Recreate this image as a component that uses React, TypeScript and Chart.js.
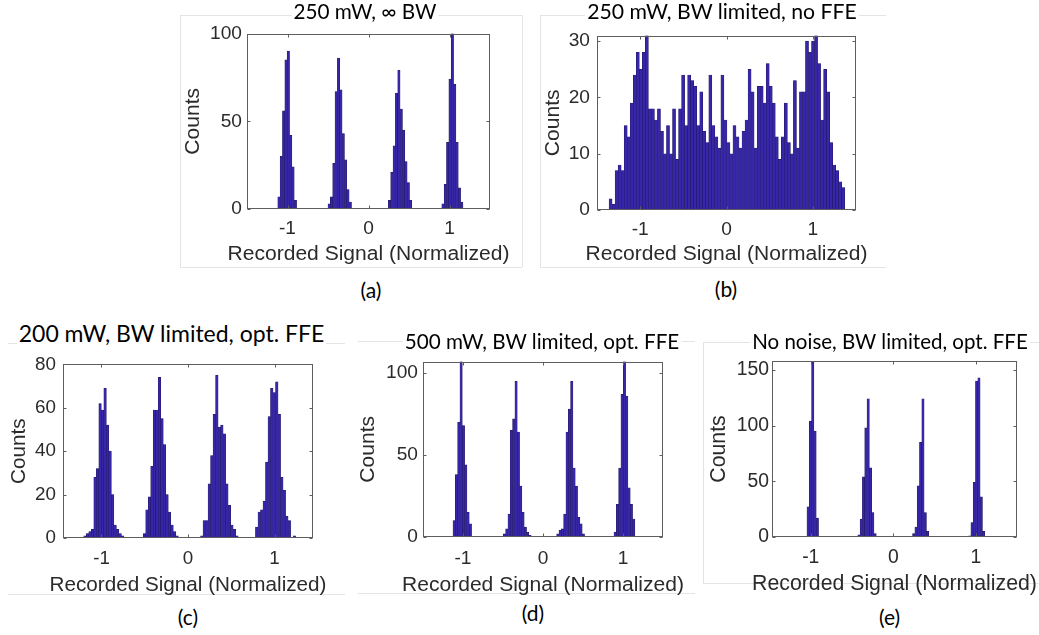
import React, { useEffect, useRef } from 'react';
import { Chart, registerables } from 'chart.js';

Chart.register(...registerables);

// ---------------- data ----------------
const xTickValues = [-1, 0, 1];

// (a) 250 mW, ∞ BW
const aBinWidth = 0.029;
const aPeakStarts = [-1.12, -0.5, 0.245, 0.905];
const aPeakM1 = [7, 30, 56, 85, 90, 42, 24, 5];
const aPeakM3 = [3, 7, 26, 67, 86, 68, 43, 28, 11, 4];
const aPeakP3 = [5, 21, 36, 66, 79, 57, 45, 27, 15, 5];
const aPeakP1 = [3, 14, 38, 74, 100, 71, 38, 12, 4];
const aYTicks = [0, 50, 100];

// (b) 250 mW, BW limited, no FFE
const bBinWidth = 0.035;
const bStart = -1.36;
const bCounts = [
  2, 1, 7, 8, 7, 15, 13, 19, 24, 28, 25, 28, 31,
  18, 18, 16, 18, 14, 10, 15, 10, 18, 9, 18, 24, 15, 24, 23, 22, 15, 21, 14, 12, 24, 15, 13, 11, 24, 16, 12, 10, 15, 13,
  11, 14, 16, 25, 21, 11, 22, 22, 19, 26, 22, 19, 13, 9, 13, 19, 12, 10, 23, 11, 21, 21, 30, 28, 30, 31, 26, 16, 25, 21, 12, 8, 7, 5, 4,
];
const bYTicks = [0, 10, 20, 30];

// (c) 200 mW, BW limited, opt. FFE
const cBinWidth = 0.029;
const cPeakStarts = [-1.205, -0.518, 0.145, 0.78];
const cPeakM1 = [1, 2, 3, 4, 28, 32, 62, 59, 69, 52, 40, 20, 6, 4, 2, 1];
const cPeakM3 = [2, 13, 19, 33, 59, 59, 74, 55, 43, 20, 12, 6, 3, 1];
const cPeakP3 = [1, 8, 8, 25, 38, 57, 75, 51, 52, 48, 25, 15, 6, 4, 1];
const cPeakP1 = [5, 12, 13, 17, 35, 56, 69, 67, 72, 57, 28, 22, 10, 8, 0, 1];
const cYTicks = [0, 20, 40, 60, 80];

// (d) 500 mW, BW limited, opt. FFE
const dBinWidth = 0.029;
const dPeakStarts = [-1.125, -0.496, 0.171, 0.8875];
const dPeakM1 = [10, 38, 70, 107, 68, 44, 15, 8];
const dPeakM3 = [2, 5, 14, 65, 72, 95, 64, 31, 15, 6, 3, 1];
const dPeakP3 = [2, 4, 5, 14, 64, 78, 95, 42, 31, 12, 8, 2];
const dPeakP1 = [3, 20, 42, 87, 107, 86, 30, 20, 11];
const dYTicks = [0, 50, 100];

// (e) No noise, BW limited, opt. FFE
const eBinWidth = 0.028;
const ePeakStarts = [-1.046, -0.43, 0.234, 0.913];
const ePeakM1 = [27, 104, 158, 95, 17];
const ePeakM3 = [2, 16, 54, 98, 124, 62, 22, 3];
const ePeakP3 = [3, 9, 46, 85, 124, 22, 5];
const ePeakP1 = [1, 13, 49, 140, 143, 36, 5];
const eYTicks = [0, 50, 100, 150];

// ---------------- styling ----------------
const AXIS_FONT = '"Liberation Sans", Arial, sans-serif';
const TITLE_FONT = 'Lato, "Open Sans", sans-serif';
const TEXT_COLOR = '#2b2b2b';
const AXIS_COLOR = '#5e5e5e';
const BAR_FACE = '#3727a8';
const BAR_EDGE = '#20175c';
const FRAME_COLOR = '#e4e4e4';
const X_LABEL = 'Recorded Signal (Normalized)';

Chart.defaults.font.family = AXIS_FONT;

type Pt = { x: number; y: number };

function peaksToBins(starts: number[], peaks: number[][], width: number): Pt[] {
  const out: Pt[] = [];
  peaks.forEach((counts, p) => {
    counts.forEach((c, i) => {
      if (c > 0) out.push({ x: starts[p] + (i + 0.5) * width, y: c });
    });
  });
  return out;
}

interface PanelCfg {
  id: string;
  title: string;
  titleCx: number;
  titleCy: number;
  titleW: number;
  caption: string;
  capCx: number;
  capCy: number;
  bins: Pt[];
  xMin: number;
  xMax: number;
  yMax: number;
  yTicks: number[];
  plot: { left: number; top: number; right: number; bottom: number };
  countsX: number;
  yTickPad: number;
  xTickCy: number;
  xLabelCy: number;
  xLabelW: number;
}

const panels: PanelCfg[] = [
  {
    id: 'a', title: '250 mW, \u221e BW', titleCx: 365, titleCy: 12, titleW: 143,
    caption: '(a)', capCx: 371, capCy: 291.5,
    bins: peaksToBins(aPeakStarts, [aPeakM1, aPeakM3, aPeakP3, aPeakP1], aBinWidth),
    xMin: -1.5, xMax: 1.5, yMax: 100, yTicks: aYTicks,
    plot: { left: 247, top: 33, right: 490, bottom: 209 },
    countsX: 193.5, yTickPad: 5, xTickCy: 229, xLabelCy: 254.5, xLabelW: 282,
  },
  {
    id: 'b', title: '250 mW, BW limited, no FFE', titleCx: 722, titleCy: 12.5, titleW: 270,
    caption: '(b)', capCx: 726, capCy: 290.5,
    bins: bCounts.map((c, i) => ({ x: bStart + (i + 0.5) * bBinWidth, y: c })).filter((p) => p.y > 0),
    xMin: -1.5, xMax: 1.5, yMax: 31, yTicks: bYTicks,
    plot: { left: 597, top: 33, right: 856, bottom: 210 },
    countsX: 554, yTickPad: 7, xTickCy: 229.5, xLabelCy: 254.5, xLabelW: 282,
  },
  {
    id: 'c', title: '200 mW, BW limited, opt. FFE', titleCx: 171.5, titleCy: 334, titleW: 306,
    caption: '(c)', capCx: 188, capCy: 618,
    bins: peaksToBins(cPeakStarts, [cPeakM1, cPeakM3, cPeakP3, cPeakP1], cBinWidth),
    xMin: -1.445, xMax: 1.445, yMax: 80, yTicks: cYTicks,
    plot: { left: 63, top: 362, right: 313, bottom: 538 },
    countsX: 19, yTickPad: 7, xTickCy: 559, xLabelCy: 585, xLabelW: 277,
  },
  {
    id: 'd', title: '500 mW, BW limited, opt. FFE', titleCx: 542, titleCy: 341.5, titleW: 275,
    caption: '(d)', capCx: 533, capCy: 614.5,
    bins: peaksToBins(dPeakStarts, [dPeakM1, dPeakM3, dPeakP3, dPeakP1], dBinWidth),
    xMin: -1.5, xMax: 1.5, yMax: 107, yTicks: dYTicks,
    plot: { left: 423, top: 361, right: 663, bottom: 537 },
    countsX: 369, yTickPad: 5, xTickCy: 559, xLabelCy: 585, xLabelW: 282,
  },
  {
    id: 'e', title: 'No noise, BW limited, opt. FFE', titleCx: 890, titleCy: 341.5, titleW: 276,
    caption: '(e)', capCx: 889.5, capCy: 618.5,
    bins: peaksToBins(ePeakStarts, [ePeakM1, ePeakM3, ePeakP3, ePeakP1], eBinWidth),
    xMin: -1.47, xMax: 1.5, yMax: 158, yTicks: eYTicks,
    plot: { left: 772, top: 361, right: 1017, bottom: 537 },
    countsX: 719, yTickPad: 3, xTickCy: 558, xLabelCy: 584, xLabelW: 285,
  },
];

// draws the MATLAB-style box with inward ticks, plus the un-squeezed x label
const boxPlugin = {
  id: 'matlabBox',
  afterDatasetsDraw(chart: any, _args: any, opts: any) {
    const { ctx, chartArea: a, scales } = chart;
    const xs = scales.x;
    const ys = scales.y;
    const L = Math.round(a.left) + 0.5;
    const R = Math.round(a.right) - 0.5;
    const T = Math.round(a.top) + 0.5;
    const B = Math.round(a.bottom) - 0.5;
    const tl = 3;
    ctx.save();
    ctx.strokeStyle = AXIS_COLOR;
    ctx.lineWidth = 1;
    ctx.strokeRect(L, T, R - L, B - T);
    ctx.beginPath();
    xs.ticks.forEach((t: any) => {
      const px = Math.round(xs.getPixelForValue(t.value)) + 0.5;
      ctx.moveTo(px, B);
      ctx.lineTo(px, B - tl);
      ctx.moveTo(px, T);
      ctx.lineTo(px, T + tl);
    });
    ys.ticks.forEach((t: any) => {
      const py = Math.round(ys.getPixelForValue(t.value)) + 0.5;
      ctx.moveTo(L, py);
      ctx.lineTo(L + tl, py);
      ctx.moveTo(R, py);
      ctx.lineTo(R - tl, py);
    });
    ctx.stroke();
    if (opts && opts.text) {
      ctx.fillStyle = TEXT_COLOR;
      ctx.font = `${opts.size}px ${AXIS_FONT}`;
      ctx.textAlign = 'center';
      ctx.textBaseline = 'middle';
      ctx.fillText(opts.text, (a.left + a.right) / 2, opts.y);
    }
    ctx.restore();
  },
};

function measureSize(text: string, family: string, target: number): number {
  const c = document.createElement('canvas').getContext('2d');
  if (!c) return 20;
  c.font = `100px ${family}`;
  const w = c.measureText(text).width;
  return (100 * target) / w;
}

function HistPanel({ cfg }: { cfg: PanelCfg }) {
  const ref = useRef<HTMLCanvasElement>(null);
  const labelSize = measureSize(X_LABEL, AXIS_FONT, cfg.xLabelW);
  const tickSize = labelSize / 1.1;
  const padTop = 14;
  const boxLeft = Math.round(cfg.countsX - labelSize / 2);
  const boxTop = cfg.plot.top - padTop;
  const boxRight = Math.max(
    cfg.plot.right + 12,
    Math.round((cfg.plot.left + cfg.plot.right) / 2 + cfg.xLabelW / 2 + 6),
  );
  const boxBottom = Math.round(cfg.xLabelCy + labelSize / 2 + 4);
  const yAxisW = cfg.plot.left - boxLeft;
  const xAxisH = boxBottom - cfg.plot.bottom;
  const W = boxRight - boxLeft;
  const H = boxBottom - boxTop;
  const padR = boxRight - cfg.plot.right;

  useEffect(() => {
    if (!ref.current) return;
    const chart = new Chart(ref.current, {
      type: 'bar',
      data: {
        datasets: [
          {
            data: cfg.bins as any,
            backgroundColor: BAR_FACE,
            borderColor: BAR_EDGE,
            borderWidth: 0.5,
            barPercentage: 1,
            categoryPercentage: 1,
            grouped: false,
          } as any,
        ],
      },
      options: {
        animation: false,
        responsive: false,
        maintainAspectRatio: false,
        events: [],
        layout: { padding: { top: padTop, right: padR, left: 0, bottom: 0 } },
        plugins: {
          legend: { display: false },
          tooltip: { enabled: false },
          title: { display: false },
          matlabBox: { text: X_LABEL, size: labelSize, y: cfg.xLabelCy - boxTop },
        },
        scales: {
          x: {
            type: 'linear',
            min: cfg.xMin,
            max: cfg.xMax,
            offset: false,
            grid: { display: false, drawTicks: false },
            border: { display: false },
            afterBuildTicks: (s: any) => {
              s.ticks = xTickValues.map((v) => ({ value: v }));
            },
            afterFit: (s: any) => {
              s.height = xAxisH;
            },
            ticks: {
              padding: cfg.xTickCy - cfg.plot.bottom - tickSize / 2,
              font: { family: AXIS_FONT, size: tickSize, lineHeight: 1 },
              color: TEXT_COLOR,
              maxRotation: 0,
              autoSkip: false,
              callback: (v: any) => String(v),
            },
            title: { display: false },
          },
          y: {
            type: 'linear',
            min: 0,
            max: cfg.yMax,
            grid: { display: false, drawTicks: false },
            border: { display: false },
            afterBuildTicks: (s: any) => {
              s.ticks = cfg.yTicks.map((v) => ({ value: v }));
            },
            afterFit: (s: any) => {
              s.width = yAxisW;
            },
            ticks: {
              padding: cfg.yTickPad,
              font: { family: AXIS_FONT, size: tickSize, lineHeight: 1 },
              color: TEXT_COLOR,
              autoSkip: false,
              callback: (v: any) => String(v),
            },
            title: {
              display: true,
              text: 'Counts',
              font: { family: AXIS_FONT, size: labelSize, lineHeight: 1 },
              color: TEXT_COLOR,
              padding: 0,
            },
          },
        },
      } as any,
      plugins: [boxPlugin],
    });
    return () => chart.destroy();
  }, [cfg]);

  const titleSize = measureSize(cfg.title, TITLE_FONT, cfg.titleW);
  const capSize = 21;

  return (
    <>
      <canvas
        ref={ref}
        width={W}
        height={H}
        style={{ position: 'absolute', left: boxLeft, top: boxTop, width: W, height: H }}
      />
      <div
        style={{
          position: 'absolute',
          left: cfg.titleCx,
          top: cfg.titleCy - 0.527 * titleSize,
          transform: 'translateX(-50%)',
          fontFamily: TITLE_FONT,
          fontSize: titleSize,
          lineHeight: `${titleSize}px`,
          whiteSpace: 'nowrap',
          color: '#000',
          background: '#fff',
          padding: '0 2px',
        }}
      >
        {cfg.title}
      </div>
      <div
        style={{
          position: 'absolute',
          left: cfg.capCx,
          top: cfg.capCy - 0.587 * capSize,
          transform: 'translateX(-50%)',
          fontFamily: TITLE_FONT,
          fontSize: capSize,
          lineHeight: `${capSize}px`,
          whiteSpace: 'nowrap',
          color: '#000',
        }}
      >
        {cfg.caption}
      </div>
    </>
  );
}

function Line({ x1, y1, x2, y2 }: { x1: number; y1: number; x2: number; y2: number }) {
  return (
    <div
      style={{
        position: 'absolute',
        left: x1,
        top: y1,
        width: Math.max(1, x2 - x1),
        height: Math.max(1, y2 - y1),
        background: FRAME_COLOR,
      }}
    />
  );
}

export default function App() {
  return (
    <div
      style={{
        position: 'absolute',
        left: 0,
        top: 0,
        width: 1039,
        height: 635,
        overflow: 'hidden',
        background: '#fff',
      }}
    >
      {/* faint sub-figure frames */}
      <Line x1={180} y1={15} x2={522} y2={15} />
      <Line x1={180} y1={267} x2={522} y2={267} />
      <Line x1={180} y1={15} x2={180} y2={267} />
      <Line x1={522} y1={15} x2={522} y2={267} />
      <Line x1={540} y1={15} x2={886} y2={15} />
      <Line x1={540} y1={267} x2={886} y2={267} />
      <Line x1={540} y1={15} x2={540} y2={267} />
      <Line x1={8} y1={343} x2={345} y2={343} />
      <Line x1={8} y1={594} x2={345} y2={594} />
      <Line x1={358} y1={341} x2={695} y2={341} />
      <Line x1={358} y1={593} x2={695} y2={593} />
      <Line x1={703} y1={342} x2={1039} y2={342} />
      <Line x1={703} y1={583} x2={1039} y2={583} />
      <Line x1={703} y1={342} x2={703} y2={583} />
      {panels.map((p) => (
        <HistPanel key={p.id} cfg={p} />
      ))}
    </div>
  );
}
